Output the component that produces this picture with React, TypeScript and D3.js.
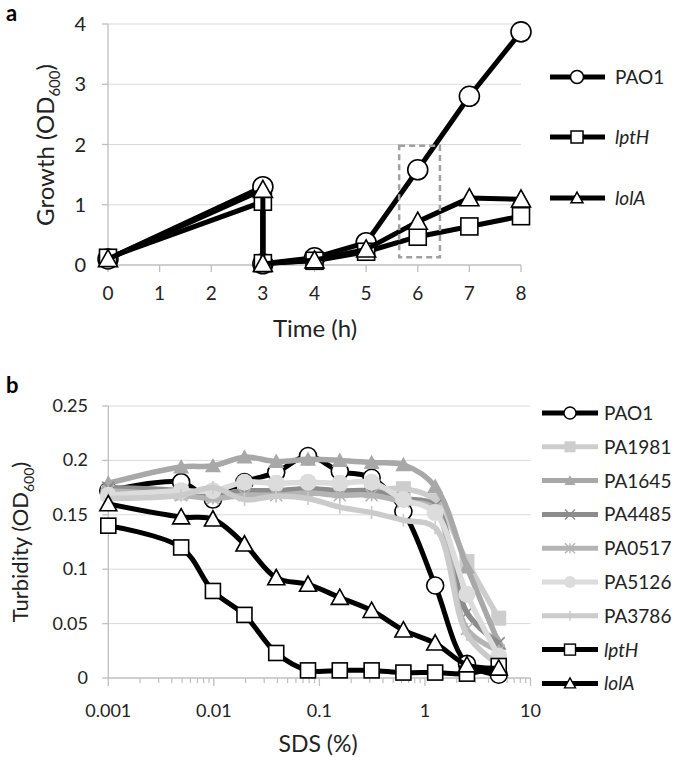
import React from "react";
import * as d3 from "d3";

// ---------- Panel a data ----------
const timeH = [0, 3, 3, 4, 5, 6, 7, 8];
const growthPAO1 = [0.1, 1.3, 0.02, 0.12, 0.37, 1.58, 2.8, 3.87];
const growthLptH = [0.12, 1.05, 0.03, 0.07, 0.22, 0.47, 0.64, 0.81];
const growthLolA = [0.1, 1.25, 0.02, 0.08, 0.26, 0.72, 1.11, 1.09];
const aXTicks = [0, 1, 2, 3, 4, 5, 6, 7, 8];
const aYTicks = [0, 1, 2, 3, 4];
const boxX = [5.64, 6.43];
const boxY = [0.13, 1.98];

// ---------- Panel b data ----------
const sds = [0.001, 0.0049, 0.0098, 0.0195, 0.039, 0.078, 0.156, 0.3125, 0.625, 1.25, 2.5, 5];
const bPAO1 = [0.172, 0.18, 0.164, 0.18, 0.189, 0.204, 0.19, 0.184, 0.153, 0.085, 0.013, 0.003];
const bPA1981 = [0.17, 0.17, 0.168, 0.172, 0.172, 0.174, 0.172, 0.172, 0.174, 0.163, 0.107, 0.055];
const bPA1645 = [0.179, 0.194, 0.195, 0.203, 0.199, 0.201, 0.2, 0.198, 0.196, 0.176, 0.102, 0.032];
const bPA4485 = [0.175, 0.172, 0.168, 0.172, 0.172, 0.174, 0.172, 0.172, 0.165, 0.158, 0.06, 0.032];
const bPA0517 = [0.172, 0.168, 0.165, 0.168, 0.168, 0.17, 0.168, 0.168, 0.162, 0.155, 0.045, 0.025];
const bPA5126 = [0.168, 0.172, 0.172, 0.18, 0.179, 0.18, 0.179, 0.18, 0.164, 0.152, 0.077, 0.02];
const bPA3786 = [0.165, 0.168, 0.175, 0.164, 0.167, 0.165, 0.157, 0.152, 0.145, 0.138, 0.04, 0.012];
const bLptH = [0.14, 0.12, 0.08, 0.058, 0.023, 0.007, 0.007, 0.007, 0.005, 0.005, 0.004, 0.011];
const bLolA = [0.16, 0.148, 0.146, 0.123, 0.092, 0.086, 0.074, 0.062, 0.044, 0.032, 0.012, 0.009];
const bYTicks = [0, 0.05, 0.1, 0.15, 0.2, 0.25];
const bYTickLabels = ["0", "0.05", "0.1", "0.15", "0.2", "0.25"];
const bXTicks = [0.001, 0.01, 0.1, 1, 10];
const bXTickLabels = ["0.001", "0.01", "0.1", "1", "10"];

const FONT = "Lato, 'Open Sans', sans-serif";
const GRID = "#d9d9d9";
const AXIS = "#bfbfbf";

type Marker = "circle" | "square" | "triangle" | "x" | "star" | "plus";

function MarkerShape({ type, x, y, size, fill, stroke, sw }: any) {
  const h = size / 2;
  if (type === "circle") return <circle cx={x} cy={y} r={h} fill={fill} stroke={stroke} strokeWidth={sw} />;
  if (type === "square") return <rect x={x - h} y={y - h} width={size} height={size} fill={fill} stroke={stroke} strokeWidth={sw} />;
  if (type === "triangle") {
    const th = size * 0.9;
    const p = `M${x},${y - th * 0.55} L${x + h},${y + th * 0.45} L${x - h},${y + th * 0.45} Z`;
    return <path d={p} fill={fill} stroke={stroke} strokeWidth={sw} strokeLinejoin="miter" />;
  }
  if (type === "x") {
    return <path d={`M${x - h},${y - h}L${x + h},${y + h}M${x - h},${y + h}L${x + h},${y - h}`} stroke={stroke} strokeWidth={sw} />;
  }
  if (type === "star") {
    return <path d={`M${x - h},${y - h}L${x + h},${y + h}M${x - h},${y + h}L${x + h},${y - h}M${x},${y - h}L${x},${y + h}`} stroke={stroke} strokeWidth={sw} />;
  }
  return <path d={`M${x},${y - h}L${x},${y + h}M${x - h * 0.6},${y}L${x + h * 0.6},${y}`} stroke={stroke} strokeWidth={sw} />;
}

function PanelA() {
  const x = d3.scaleLinear().domain([0, 8]).range([108, 521]);
  const y = d3.scaleLinear().domain([0, 4]).range([265, 24]);
  const line = d3.line<number>().x((_, i) => x(timeH[i])).y((d) => y(d));
  const series = [
    { name: "PAO1", vals: growthPAO1, m: "circle" as Marker, size: 20, italic: false },
    { name: "lptH", vals: growthLptH, m: "square" as Marker, size: 17, italic: true },
    { name: "lolA", vals: growthLolA, m: "triangle" as Marker, size: 19, italic: true },
  ];
  const legendY = [77, 137, 198];
  return (
    <g>
      <text x={6} y={21} fontFamily={FONT} fontWeight="bold" fontSize={22}>a</text>
      {aYTicks.filter((t) => t > 0).map((t) => (
        <line key={t} x1={x(0)} x2={x(8)} y1={y(t)} y2={y(t)} stroke={GRID} strokeWidth={1} />
      ))}
      <line x1={x(0)} x2={x(0)} y1={y(4)} y2={y(0)} stroke={AXIS} strokeWidth={1.3} />
      <line x1={x(0)} x2={x(8)} y1={y(0)} y2={y(0)} stroke={AXIS} strokeWidth={1.3} />
      {aYTicks.map((t) => (
        <g key={t}>
          <line x1={x(0) - 6} x2={x(0)} y1={y(t)} y2={y(t)} stroke={AXIS} strokeWidth={1.3} />
          <text x={86} y={y(t) + 7} textAnchor="end" fontFamily={FONT} fontSize={20} fill="#222">{t}</text>
        </g>
      ))}
      {aXTicks.map((t) => (
        <g key={t}>
          <line x1={x(t)} x2={x(t)} y1={y(0)} y2={y(0) + 7} stroke={AXIS} strokeWidth={1.3} />
          <text x={x(t)} y={300} textAnchor="middle" fontFamily={FONT} fontSize={19} fill="#222">{t}</text>
        </g>
      ))}
      <text x={315} y={337} textAnchor="middle" fontFamily={FONT} fontSize={24} fill="#222">Time (h)</text>
      <text transform={`translate(54,145) rotate(-90)`} textAnchor="middle" fontFamily={FONT} fontSize={24} fill="#222">
        Growth (OD<tspan fontSize={15} dy={6}>600</tspan><tspan dy={-6}>)</tspan>
      </text>
      {series.map((s) => (
        <g key={s.name}>
          <path d={line(s.vals) || ""} fill="none" stroke="#000" strokeWidth={5} strokeLinejoin="round" />
          {s.vals.map((v, i) => (
            <MarkerShape key={i} type={s.m} x={x(timeH[i])} y={y(v)} size={s.size} fill="#fff" stroke="#000" sw={1.6} />
          ))}
        </g>
      ))}
      <rect x={x(boxX[0])} y={y(boxY[1])} width={x(boxX[1]) - x(boxX[0])} height={y(boxY[0]) - y(boxY[1])}
        fill="none" stroke="#a0a0a0" strokeWidth={2.5} strokeDasharray="6,4" />
      {series.map((s, i) => (
        <g key={s.name}>
          <line x1={550} x2={605} y1={legendY[i]} y2={legendY[i]} stroke="#000" strokeWidth={5} />
          <MarkerShape type={s.m} x={577} y={legendY[i]} size={s.m === "circle" ? 13 : 12} fill="#fff" stroke="#000" sw={1.5} />
          <text x={615} y={legendY[i] + 7} fontFamily={FONT} fontSize={19} fontStyle={s.italic ? "italic" : "normal"} fill="#222">{s.name}</text>
        </g>
      ))}
    </g>
  );
}

function PanelB() {
  const x = d3.scaleLog().domain([0.001, 10]).range([108.3, 530.5]);
  const y = d3.scaleLinear().domain([0, 0.25]).range([678, 406]);
  const line = d3.line<number>().x((_, i) => x(sds[i])).y((d) => y(d)).curve(d3.curveCatmullRom.alpha(0.5));
  const series = [
    { name: "PAO1", vals: bPAO1, color: "#000", m: "circle" as Marker, size: 17, fill: "#fff", stroke: "#000", sw: 1.6, w: 5, italic: false },
    { name: "PA1981", vals: bPA1981, color: "#cdcdcd", m: "square" as Marker, size: 15, fill: "#cdcdcd", stroke: "#cdcdcd", sw: 0, w: 5.5, italic: false },
    { name: "PA1645", vals: bPA1645, color: "#a8a8a8", m: "triangle" as Marker, size: 16, fill: "#a8a8a8", stroke: "#a8a8a8", sw: 0, w: 5.5, italic: false },
    { name: "PA4485", vals: bPA4485, color: "#8c8c8c", m: "x" as Marker, size: 12, fill: "none", stroke: "#8c8c8c", sw: 1.6, w: 5.5, italic: false },
    { name: "PA0517", vals: bPA0517, color: "#b4b4b4", m: "star" as Marker, size: 12, fill: "none", stroke: "#b4b4b4", sw: 1.6, w: 5.5, italic: false },
    { name: "PA5126", vals: bPA5126, color: "#dcdcdc", m: "circle" as Marker, size: 17, fill: "#dcdcdc", stroke: "#dcdcdc", sw: 0, w: 5.5, italic: false },
    { name: "PA3786", vals: bPA3786, color: "#cbcbcb", m: "plus" as Marker, size: 13, fill: "none", stroke: "#cbcbcb", sw: 1.6, w: 5.5, italic: false },
    { name: "lptH", vals: bLptH, color: "#000", m: "square" as Marker, size: 15, fill: "#fff", stroke: "#000", sw: 1.6, w: 5, italic: true },
    { name: "lolA", vals: bLolA, color: "#000", m: "triangle" as Marker, size: 17, fill: "#fff", stroke: "#000", sw: 1.6, w: 5, italic: true },
  ];
  const minor: number[] = [];
  [0.001, 0.01, 0.1, 1].forEach((d) => { for (let k = 2; k <= 9; k++) minor.push(d * k); });
  return (
    <g>
      <text x={6} y={393} fontFamily={FONT} fontWeight="bold" fontSize={22}>b</text>
      {bYTicks.filter((t) => t > 0).map((t) => (
        <line key={t} x1={x(0.001)} x2={x(10)} y1={y(t)} y2={y(t)} stroke={GRID} strokeWidth={1} />
      ))}
      <line x1={x(0.001)} x2={x(0.001)} y1={y(0.25)} y2={y(0)} stroke={AXIS} strokeWidth={1.3} />
      <line x1={x(0.001)} x2={x(10)} y1={y(0)} y2={y(0)} stroke={AXIS} strokeWidth={1.3} />
      {bYTicks.map((t, i) => (
        <g key={t}>
          <line x1={x(0.001) - 6} x2={x(0.001)} y1={y(t)} y2={y(t)} stroke={AXIS} strokeWidth={1.3} />
          <text x={88} y={y(t) + 6} textAnchor="end" fontFamily={FONT} fontSize={18} fill="#222">{bYTickLabels[i]}</text>
        </g>
      ))}
      {minor.map((t) => (
        <line key={t} x1={x(t)} x2={x(t)} y1={y(0)} y2={y(0) + 5} stroke={AXIS} strokeWidth={1.2} />
      ))}
      {bXTicks.map((t, i) => (
        <g key={t}>
          <line x1={x(t)} x2={x(t)} y1={y(0)} y2={y(0) + 8} stroke={AXIS} strokeWidth={1.3} />
          <text x={x(t)} y={717} textAnchor="middle" fontFamily={FONT} fontSize={18} fill="#222">{bXTickLabels[i]}</text>
        </g>
      ))}
      <text x={318} y={752} textAnchor="middle" fontFamily={FONT} fontSize={23} fill="#222">SDS (%)</text>
      <text transform={`translate(28,542) rotate(-90)`} textAnchor="middle" fontFamily={FONT} fontSize={22} fill="#222">
        Turbidity (OD<tspan fontSize={14} dy={6}>600</tspan><tspan dy={-6}>)</tspan>
      </text>
      {series.map((s) => (
        <g key={s.name}>
          <path d={line(s.vals) || ""} fill="none" stroke={s.color} strokeWidth={s.w} strokeLinejoin="round" />
          {s.vals.map((v, i) => (
            <MarkerShape key={i} type={s.m} x={x(sds[i])} y={y(v)} size={s.size} fill={s.fill} stroke={s.stroke} sw={s.sw} />
          ))}
        </g>
      ))}
      {series.map((s, i) => {
        const ly = 413 + i * 33.8;
        const lsize = s.m === "circle" ? 12 : s.m === "x" || s.m === "star" || s.m === "plus" ? 10 : 11;
        return (
          <g key={s.name}>
            <line x1={542} x2={598} y1={ly} y2={ly} stroke={s.color} strokeWidth={5} />
            <MarkerShape type={s.m} x={570} y={ly} size={lsize} fill={s.fill} stroke={s.stroke} sw={s.sw ? 1.4 : 0} />
            <text x={604} y={ly + 7} fontFamily={FONT} fontSize={19} fontStyle={s.italic ? "italic" : "normal"} fill="#222">{s.name}</text>
          </g>
        );
      })}
    </g>
  );
}

export default function App() {
  return (
    <svg width={675} height={758} viewBox="0 0 675 758" style={{ position: "absolute", left: 0, top: 0, background: "#fff" }}>
      <rect width={675} height={758} fill="#fff" />
      <PanelA />
      <PanelB />
    </svg>
  );
}
